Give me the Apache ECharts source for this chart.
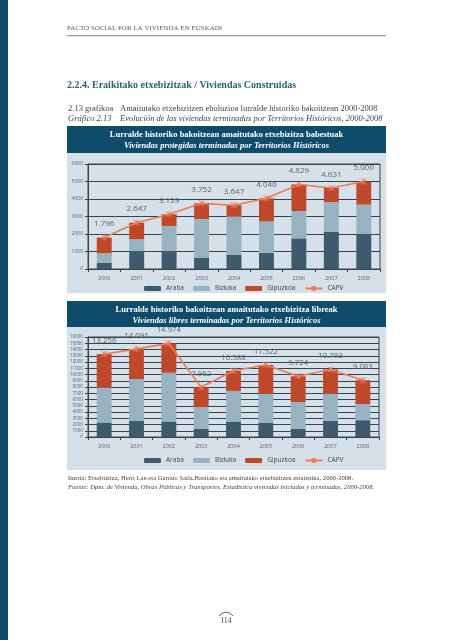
<!DOCTYPE html>
<html>
<head>
<meta charset="utf-8">
<script src="https://cdn.jsdelivr.net/npm/echarts@6/dist/echarts.min.js"></script>
<style>
html,body{margin:0;padding:0;background:#fff;}
#c{width:453px;height:640px;}
</style>
</head>
<body>
<div id="c"></div>
<script>
// ---- data ----
var years = ['2000','2001','2002','2003','2004','2005','2006','2007','2008'];
// Chart 1: viviendas protegidas
var protAraba    = [360, 1050, 1030, 630, 820, 930, 1750, 2130, 2000];
var protBizkaia  = [540, 650, 1430, 2230, 2190, 1790, 1560, 1700, 1680];
var protGipuzkoa = [896, 947, 669, 892, 637, 1320, 1519, 801, 1320];
var protCAPV     = [1796, 2647, 3129, 3752, 3647, 4040, 4829, 4631, 5000];
// Chart 2: viviendas libres
var librAraba    = [2320, 2590, 2480, 1290, 2480, 2260, 1290, 2590, 2690];
var librBizkaia  = [5600, 6680, 7810, 3510, 4900, 4640, 4310, 4360, 2590];
var librGipuzkoa = [5336, 4821, 4684, 3162, 3208, 4622, 4124, 3843, 3803];
var librCAPV     = [13256, 14091, 14974, 7962, 10588, 11522, 9724, 10793, 9083];
var legendNames  = ['Araba', 'Bizkaia', 'Gipuzkoa', 'CAPV'];

// ---- styles ----
var cAraba = '#3e5a6d', cBizkaia = '#97b2c0', cGipuzkoa = '#c0482a', cLine = '#ee7b55';
var dark = '#0f4c6c', panel = '#d5e0e8', gridCol = '#34434f', lab = '#5a6571';
var serif = '"Liberation Serif", "DejaVu Serif", serif';
var sans = '"Open Sans", "DejaVu Sans", sans-serif';
var cross = 'path://M0,0L10,10M10,0L0,10M5,0L5,10';

function fmt(v){ return String(v).replace(/\B(?=(\d{3})+(?!\d))/g, '.'); }

var chart = echarts.init(document.getElementById('c'), null, {renderer:'canvas'});

function barSeries(name, data, color, idx, stack){
  return {name:name, type:'bar', stack:stack, data:data, xAxisIndex:idx, yAxisIndex:idx,
    barWidth:'46%', itemStyle:{color:color}, z:2};
}
function lineSeries(data, idx, fs){
  return {name:'CAPV', type:'line', data:data, xAxisIndex:idx, yAxisIndex:idx,
    symbol:cross, symbolSize:6, z:5,
    lineStyle:{color:cLine, width:1.6},
    itemStyle:{color:cLine, borderColor:cLine, borderWidth:1},
    label:{show:true, position:'top', distance:6, color:lab, fontSize:fs, fontFamily:sans,
      formatter:function(p){return fmt(p.value);}}};
}
function xAxis(idx){
  return {type:'category', gridIndex:idx, data:years,
    axisLine:{lineStyle:{color:gridCol, width:1}},
    axisTick:{show:true, length:3, lineStyle:{color:gridCol}},
    axisLabel:{color:lab, fontSize:5.5, fontFamily:sans, margin:6}};
}
function yAxis(idx, max, fs){
  return {type:'value', gridIndex:idx, min:0, max:max, interval:1000,
    axisLine:{show:true, lineStyle:{color:gridCol, width:1}},
    axisTick:{show:true, length:3, lineStyle:{color:gridCol}},
    splitLine:{lineStyle:{color:gridCol, width:1}},
    axisLabel:{color:lab, fontSize:fs, fontFamily:sans, margin:5,
      formatter:function(v){return String(v);}}};
}
function legend(top){
  return {data:legendNames, top:top, left:144, itemWidth:17, itemHeight:5, itemGap:9,
    textStyle:{color:'#3c4650', fontSize:6.5, fontFamily:sans}, padding:0};
}

var option = {
  animation:false,
  backgroundColor:'#ffffff',
  graphic:[
    {type:'rect', shape:{x:0,y:0,width:8,height:640}, style:{fill:dark}, z:-1},
    {type:'text', x:67, y:25, style:{text:'PACTO SOCIAL POR LA VIVIENDA EN EUSKADI', fill:'#4b6573', font:'7px '+serif}},
    {type:'rect', shape:{x:67,y:35,width:319,height:1.3}, style:{fill:'#8aa3ab'}},
    {type:'text', x:67, y:80, style:{text:'2.2.4. Eraikitako etxebizitzak / Viviendas Construidas', fill:'#266470', font:'bold 10px '+serif}},
    {type:'text', x:68, y:104, style:{text:'2.13 grafikoa', fill:'#444', font:'8.5px '+serif}},
    {type:'text', x:120, y:104, style:{text:'Amaitutako etxebizitzen eboluzioa lurralde historiko bakoitzean 2000-2008', fill:'#444', font:'8.5px '+serif}},
    {type:'text', x:68, y:114, style:{text:'Gráfico 2.13', fill:'#444', font:'italic 8.5px '+serif}},
    {type:'text', x:120, y:114, style:{text:'Evolución de las viviendas terminadas por Territorios Históricos, 2000-2008', fill:'#444', font:'italic 8.5px '+serif}},
    // chart 1 header + panel
    {type:'rect', shape:{x:67,y:126,width:319,height:27}, style:{fill:dark}, z:-1},
    {type:'text', x:226.5, y:130, style:{text:'Lurralde historiko bakoitzean amaitutako etxebizitza babestuak', fill:'#fff', font:'bold 8.5px '+serif, textAlign:'center'}},
    {type:'text', x:226.5, y:141, style:{text:'Viviendas protegidas terminadas por Territorios Históricos', fill:'#fff', font:'italic bold 8.5px '+serif, textAlign:'center'}},
    {type:'rect', shape:{x:67,y:153,width:319,height:140}, style:{fill:panel}, z:-1},
    // chart 2 header + panel
    {type:'rect', shape:{x:67,y:301,width:319,height:26}, style:{fill:dark}, z:-1},
    {type:'text', x:226.5, y:305, style:{text:'Lurralde historiko bakoitzean amaitutako etxebizitza libreak', fill:'#fff', font:'bold 8.5px '+serif, textAlign:'center'}},
    {type:'text', x:226.5, y:316, style:{text:'Viviendas libres terminadas por Territorios Históricos', fill:'#fff', font:'italic bold 8.5px '+serif, textAlign:'center'}},
    {type:'rect', shape:{x:67,y:327,width:319,height:143}, style:{fill:panel}, z:-1},
    // source
    {type:'text', x:68, y:475, style:{text:'Iturria: Etxebizitza, Herri Lan eta Garraio Saila.Hasitako eta amaitutako etxebizitzen estatistika, 2000-2008.', fill:'#444', font:'6.6px '+serif}},
    {type:'text', x:68, y:484, style:{text:'Fuente: Dpto. de Vivienda, Obras Públicas y Transportes. Estadística viviendas iniciadas y terminadas, 2000-2008.', fill:'#444', font:'italic 6.6px '+serif}},
    // page number
    {type:'bezierCurve', shape:{x1:219,y1:616,x2:233,y2:616,cpx1:224,cpy1:611,cpx2:228,cpy2:611}, style:{stroke:'#3d5866', lineWidth:1, fill:null}},
    {type:'text', x:226, y:617, style:{text:'114', fill:'#3d5866', font:'8px '+serif, textAlign:'center'}}
  ],
  legend:[legend(285), legend(457)],
  grid:[
    {left:88, top:164, width:292, height:105, show:true, borderColor:gridCol, borderWidth:1, backgroundColor:'transparent'},
    {left:88, top:337, width:291, height:100, show:true, borderColor:gridCol, borderWidth:1, backgroundColor:'transparent'}
  ],
  xAxis:[xAxis(0), xAxis(1)],
  yAxis:[yAxis(0, 6000, 5), yAxis(1, 16000, 4.6)],
  series:[
    barSeries('Araba', protAraba, cAraba, 0, 'p'),
    barSeries('Bizkaia', protBizkaia, cBizkaia, 0, 'p'),
    barSeries('Gipuzkoa', protGipuzkoa, cGipuzkoa, 0, 'p'),
    lineSeries(protCAPV, 0, 8),
    barSeries('Araba', librAraba, cAraba, 1, 'l'),
    barSeries('Bizkaia', librBizkaia, cBizkaia, 1, 'l'),
    barSeries('Gipuzkoa', librGipuzkoa, cGipuzkoa, 1, 'l'),
    lineSeries(librCAPV, 1, 7.8)
  ]
};
chart.setOption(option);
</script>
</body>
</html>
